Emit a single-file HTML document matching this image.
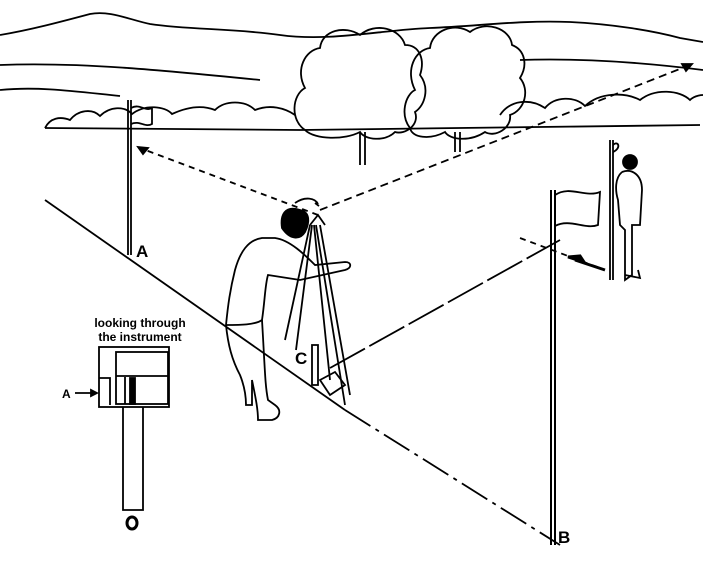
<!DOCTYPE html>
<html><head><style>body{margin:0;background:#fff}svg{display:block}text{font-family:"Liberation Sans",sans-serif;font-weight:bold}</style></head>
<body>
<svg width="703" height="570" viewBox="0 0 703 570" fill="none" stroke="#000" stroke-width="1.8">
<path d="M0 35 C30 30 60 22 90 14 C110 10 130 20 150 24 C190 30 230 28 280 35 C330 42 380 30 430 28 C480 26 520 20 570 22 C610 24 650 30 680 38 L703 42"/>
<path d="M0 65 C80 62 160 70 260 80 M520 60 C580 58 640 62 703 70"/>
<path d="M0 90 C40 86 80 92 120 96"/>
<path d="M45 128 C50 118 60 116 70 120 C78 110 92 108 100 116 C110 106 125 106 132 114 C145 104 165 106 172 114 C185 108 200 104 215 110 C225 100 245 100 255 110 C270 104 285 108 295 115"/>
<path d="M500 115 C510 100 530 98 545 108 C555 96 575 96 585 106 C600 92 625 92 640 100 C655 88 680 90 690 100 C695 95 703 95 703 95"/>
<path d="M45 128 L300 130 L700 125"/>
<path d="M305 130 C290 120 292 95 305 88 C295 70 305 50 320 48 C322 30 345 25 360 35 C375 22 400 28 405 45 C420 45 425 60 420 75 C430 88 425 105 415 112 C420 125 405 135 395 132 C385 142 365 140 360 132 C345 140 315 140 305 130Z"/>
<path d="M410 128 C400 115 405 95 415 90 C405 70 415 50 430 48 C432 30 455 22 470 32 C485 20 510 28 512 45 C525 50 528 65 520 78 C530 90 525 110 510 115 C512 128 495 138 485 132 C470 142 450 140 445 132 C430 140 412 138 410 128Z"/>
<path d="M360 132 L360 165 M365 132 L365 165 M455 132 L455 152 M460 132 L460 152"/>
<path d="M45 200 L345 410" />
<path d="M345 410 L560 545" stroke-dasharray="30 6 4 6"/>
<path d="M330 368 L560 240" stroke-dasharray="40 5"/>
<path d="M318 215 L140 148" stroke-dasharray="6 5"/>
<path d="M320 210 L690 65" stroke-dasharray="8 5"/>
<path d="M520 238 L600 268" stroke-dasharray="6 5"/>
<path d="M138 147 l10 1 l-5 6z M692 64 l-10 0 l4 7z" fill="#000"/>
<path d="M568 257 l16 5 l-4 -6 z" fill="#000" stroke-width="3"/>
<path d="M575 260 L605 270" stroke-width="3"/>
<path d="M128 100 L128 255 M131 100 L131 255" />
<path d="M131 108 C140 103 145 112 152 108 L152 124 C145 128 140 120 131 124"/>
<text x="136" y="257" font-size="17" fill="#000" stroke="none">A</text>
<path d="M551 190 L551 545 M555 190 L555 545" stroke-width="2"/>
<path d="M555 195 C570 185 585 198 600 192 L598 225 C585 230 570 218 555 226"/>
<text x="558" y="543" font-size="17" fill="#000" stroke="none">B</text>
<path d="M610 140 L610 280 M613 140 L613 280"/>
<path d="M613 145 C618 140 622 148 613 152"/>
<circle cx="630" cy="162" r="7" fill="#000"/>
<path d="M622 172 C632 168 642 175 642 190 L640 225 L632 225 L632 275 L625 280 L625 230 L620 225 L618 200 C615 190 615 178 622 172"/>
<path d="M625 275 L640 278 L638 270"/>
<path d="M300 210 C285 205 280 215 282 228 C290 240 300 240 305 232 C310 222 310 212 300 210Z" fill="#000"/>
<path d="M262 238 C248 240 240 252 235 270 C230 290 228 305 226 325 C240 325 255 325 262 320 C265 300 265 285 268 275 L300 280 L345 270 C352 268 352 262 345 262 L315 265 C305 255 290 240 275 238Z"/>
<path d="M226 325 C228 345 232 360 240 375 C244 385 246 395 246 405 L252 405 L252 380 C255 395 258 408 258 420 L272 420 C280 418 282 410 275 405 L268 400 C265 385 265 370 262 320"/>
<path d="M310 225 L285 340 M312 225 L296 350 M316 225 L345 405 M320 225 L350 395 M314 225 L330 380"/>
<path d="M310 225 L318 215 L325 225"/>
<path d="M295 203 C305 196 315 198 318 204 M315 203 l4 3"/>
<path d="M312 345 L318 345 L318 385 L312 385Z"/>
<path d="M320 380 L335 372 L345 385 L330 395Z"/>
<text x="295" y="364" font-size="17" fill="#000" stroke="none">C</text>
<text x="140" y="327" font-size="12" fill="#000" stroke="none" text-anchor="middle">looking through</text>
<text x="140" y="341" font-size="12" fill="#000" stroke="none" text-anchor="middle">the instrument</text>
<rect x="99" y="347" width="70" height="60"/>
<rect x="116" y="352" width="52" height="52"/>
<path d="M116 376 L168 376 M99 378 L110 378 L110 405"/>
<rect x="130" y="378" width="5" height="26" fill="#000"/>
<path d="M125 377 L125 404"/>
<text x="62" y="398" font-size="12" fill="#000" stroke="none">A</text>
<path d="M75 393 L97 393"/><path d="M97 393 l-6 -3 l0 6z" fill="#000"/>
<path d="M123 407 L123 510 L143 510 L143 407"/>
<ellipse cx="132" cy="523" rx="5" ry="6" stroke-width="3"/>
</svg>
</body></html>
